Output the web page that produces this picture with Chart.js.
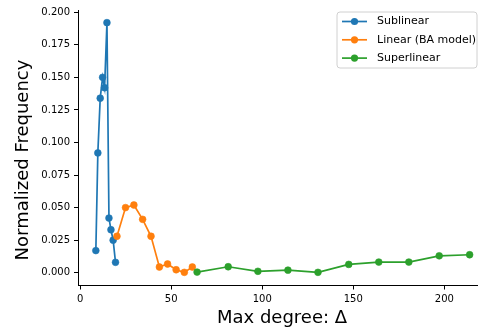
<!DOCTYPE html>
<html>
<head>
<meta charset="utf-8">
<script src="https://cdn.jsdelivr.net/npm/chart.js@4"></script>
<style>
  html, body { margin: 0; padding: 0; background: #fff; }
  #chart { display: block; }
</style>
</head>
<body>
<canvas id="chart" width="478" height="330"></canvas>
<script>
// values
const sublinearX = [8.6, 9.7, 11.0, 12.3, 13.4, 14.7, 15.8, 16.9, 18.1, 19.4]
const sublinearY = [0.017, 0.092, 0.134, 0.150, 0.142, 0.192, 0.042, 0.033, 0.025, 0.008]
const linearX = [20.2, 24.9, 29.5, 34.3, 38.9, 43.5, 48.0, 52.7, 57.2, 61.6]
const linearY = [0.028, 0.050, 0.052, 0.041, 0.028, 0.0044, 0.0067, 0.0023, 0.0003, 0.0044]
const superlinearX = [64.2, 81.3, 97.6, 114.1, 130.6, 147.5, 164.0, 180.5, 197.2, 213.9]
const superlinearY = [0.0005, 0.0046, 0.0011, 0.002, 0.0003, 0.0064, 0.0082, 0.0082, 0.013, 0.0138]

const xTicks = [0, 50, 100, 150, 200]
const yTicks = [0, 0.025, 0.05, 0.075, 0.1, 0.125, 0.15, 0.175, 0.2]

const seriesLabels = ['Sublinear', 'Linear (BA model)', 'Superlinear']
const seriesColors = ['#1f77b4', '#ff7f0e', '#2ca02c']

const xTitle = 'Max degree: Δ'
const yTitle = 'Normalized Frequency'

const FONT = '"DejaVu Sans", sans-serif'

function points(xs, ys) {
  return xs.map((x, i) => ({ x: x, y: ys[i] }))
}

function makeSet(i, xs, ys) {
  return {
    label: seriesLabels[i],
    data: points(xs, ys),
    showLine: true,
    borderColor: seriesColors[i],
    backgroundColor: seriesColors[i],
    borderWidth: 1.7,
    pointRadius: 3.4,
    pointBorderWidth: 0.6,
    clip: false,
    order: 3 - i,
  }
}

// axis titles and legend drawn matplotlib-style
const extras = {
  id: 'extras',
  afterDraw(chart) {
    const ctx = chart.ctx
    ctx.save()
    ctx.fillStyle = '#000'
    ctx.font = '18px ' + FONT
    ctx.textAlign = 'center'
    ctx.textBaseline = 'alphabetic'
    ctx.fillText(xTitle, 282, 323)

    ctx.save()
    ctx.translate(28, 160)
    ctx.rotate(-Math.PI / 2)
    ctx.fillText(yTitle, 0, 0)
    ctx.restore()

    // legend box
    const bx = 337, by = 12, bw = 140, bh = 56, r = 3
    ctx.beginPath()
    ctx.moveTo(bx + r, by)
    ctx.lineTo(bx + bw - r, by)
    ctx.quadraticCurveTo(bx + bw, by, bx + bw, by + r)
    ctx.lineTo(bx + bw, by + bh - r)
    ctx.quadraticCurveTo(bx + bw, by + bh, bx + bw - r, by + bh)
    ctx.lineTo(bx + r, by + bh)
    ctx.quadraticCurveTo(bx, by + bh, bx, by + bh - r)
    ctx.lineTo(bx, by + r)
    ctx.quadraticCurveTo(bx, by, bx + r, by)
    ctx.closePath()
    ctx.fillStyle = 'rgba(255,255,255,0.8)'
    ctx.fill()
    ctx.strokeStyle = '#d0d0d0'
    ctx.lineWidth = 1
    ctx.stroke()

    ctx.font = '11px ' + FONT
    ctx.textAlign = 'left'
    ctx.textBaseline = 'middle'
    chart.data.datasets.forEach((ds, i) => {
      const y = 21.5 + i * 18.3
      ctx.strokeStyle = ds.borderColor
      ctx.lineWidth = 1.7
      ctx.beginPath()
      ctx.moveTo(342, y)
      ctx.lineTo(367, y)
      ctx.stroke()
      ctx.fillStyle = ds.backgroundColor
      ctx.beginPath()
      ctx.arc(354.5, y, 3.6, 0, Math.PI * 2)
      ctx.fill()
      ctx.fillStyle = '#000'
      ctx.fillText(ds.label, 377, y)
    })
    ctx.restore()
  }
}

const ctx = document.getElementById('chart').getContext('2d')
const chart = new Chart(ctx, {
  type: 'scatter',
  data: {
    datasets: [
      makeSet(0, sublinearX, sublinearY),
      makeSet(1, linearX, linearY),
      makeSet(2, superlinearX, superlinearY),
    ],
  },
  options: {
    responsive: false,
    animation: false,
    layout: { autoPadding: false, padding: { top: 10, right: 0, left: 0, bottom: 0 } },
    plugins: {
      legend: { display: false },
      tooltip: { enabled: false },
    },
    scales: {
      x: {
        type: 'linear',
        min: -1.2,
        max: 218.5,
        afterFit: (scale) => {
          scale.height = 44.5
          scale.paddingLeft = 0
          scale.paddingRight = 0
        },
        afterBuildTicks: (scale) => { scale.ticks = xTicks.map(v => ({ value: v })) },
        grid: { drawOnChartArea: false, drawTicks: true, tickLength: 4, tickColor: '#000' },
        border: { color: '#000', width: 1 },
        ticks: {
          color: '#000',
          padding: 4,
          maxRotation: 0,
          font: { family: FONT, size: 10 },
          callback: (v) => String(v),
        },
      },
      y: {
        type: 'linear',
        min: -0.0098,
        max: 0.2017,
        afterFit: (scale) => {
          scale.width = 78
          scale.paddingTop = 0
          scale.paddingBottom = 0
        },
        afterBuildTicks: (scale) => { scale.ticks = yTicks.map(v => ({ value: v })) },
        grid: { drawOnChartArea: false, drawTicks: true, tickLength: 4, tickColor: '#000' },
        border: { color: '#000', width: 1 },
        ticks: {
          color: '#000',
          padding: 4,
          font: { family: FONT, size: 10 },
          callback: (v) => Number(v).toFixed(3),
        },
      },
    },
  },
  plugins: [extras],
})
</script>
</body>
</html>
